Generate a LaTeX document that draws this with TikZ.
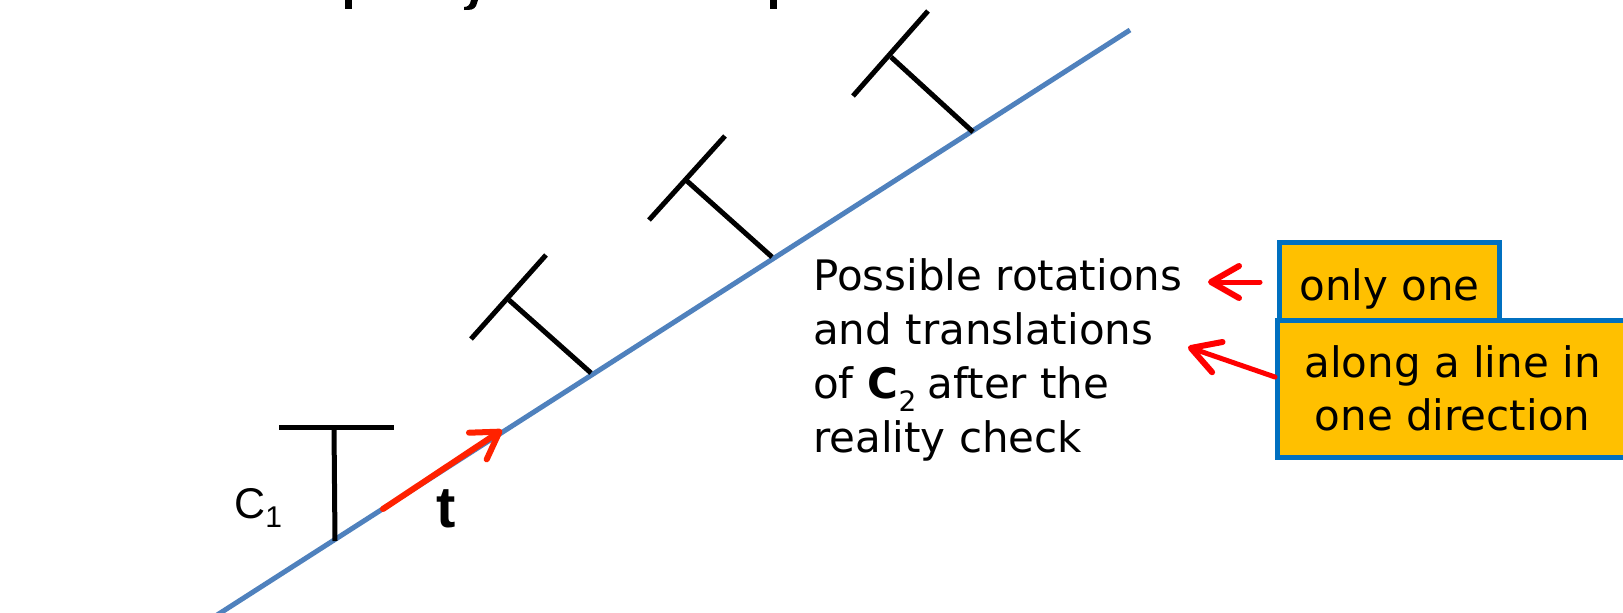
\documentclass[tikz,border=0pt]{standalone}
\usepackage{fontspec}
\setmainfont{DejaVu Sans}
\newfontfamily\arialfont{Liberation Sans}
\usetikzlibrary{arrows.meta,calc}
\definecolor{lineblue}{HTML}{4F81BD}
\definecolor{boxblue}{HTML}{0070C0}
\definecolor{boxfill}{HTML}{FFC000}
\definecolor{tred}{HTML}{FF2200}
\begin{document}
\begin{tikzpicture}[x=1pt,y=-1pt,
  axisline/.style={lineblue,line width=5pt},
  tbar/.style={black,line width=5pt},
  boxstyle/.style={draw=boxblue,line width=5pt,fill=boxfill,inner sep=0pt,
    font=\fontsize{42}{53}\selectfont},
  redarr/.style={red,line width=5pt,line cap=round,
    -{Straight Barb[length=28pt,width=32pt,line width=6pt,round]}},
  tarr/.style={tred,line width=6pt,line cap=round,
    -{Straight Barb[length=26pt,width=32pt,line width=6pt,round]}}]
\useasboundingbox (0,0) rectangle (1623,613);
\clip (0,0) rectangle (1623,613);
\fill[white] (0,0) rectangle (1623,613);
% fragments of the cut-off title
\fill (345,0) rectangle (352,9);
\fill (770,0) rectangle (777,9);
\fill (471,0) -- (478,0) -- (476,6) .. controls (474,10) and (470,10) .. (464,10)
  -- (464,7) .. controls (468,7) and (470,5) .. (471,0) -- cycle;
% line
\coordinate (L0) at (214,617);
\coordinate (L1) at (1130,30);
\draw[axisline] (L0) -- (L1);
% C1
\draw[tbar] (279,427) -- (394,427);
\draw[tbar] (334,427) -- (335,541);
\node[anchor=base west,inner sep=0pt] (c1) at (234,518)
  {\arialfont\fontsize{43}{43}\selectfont C\raisebox{-9pt}{\fontsize{30}{30}\selectfont 1}};
% translated/rotated copies
\draw[tbar] (471,339) -- (546,255);
\draw[tbar] (509,300) -- (591,373);
\draw[tbar] (649,220) -- (725,136);
\draw[tbar] (687,181) -- (772,257);
\draw[tbar] (853,96) -- (928,11);
\draw[tbar] (891,57) -- (973,132);
% t arrow
\coordinate (t0) at (383,509);
\coordinate (t1) at (502,430);
\draw[tarr] (t0) -- (t1);
\node[anchor=base west,inner sep=0pt] (tlab) at (436,527)
  {\arialfont\bfseries\fontsize{58}{58}\selectfont t};
% text block
\node[anchor=base west,inner sep=0pt] (txt) at (813,290)
  {\fontsize{42}{54.3}\selectfont\begin{tabular}[t]{@{}l@{}}
  Possible rotations\\
  and translations\\
  of \textbf{C}\raisebox{-13pt}{\fontsize{28}{28}\selectfont 2}\kern-2pt\ after the\\
  reality check
  \end{tabular}};
% boxes
\node[boxstyle,anchor=base,minimum width=220pt,minimum height=94pt,
  text height=32pt,text depth=10pt] (box1) at (1389.5,300) {only one};
\node[boxstyle,align=center,minimum width=350pt,minimum height=137pt]
  (box2) at (1452.5,388.5) {along a line in\\one direction};
% arrows from boxes
\coordinate (a1s) at (1260,282);
\coordinate (a1tip) at (1208,282);
\draw[redarr] (a1s) -- (a1tip);
\coordinate (a2tip) at (1188,347);
\draw[redarr] ($(box2.west)+(0,-11.5)$) -- (a2tip);
\end{tikzpicture}
\end{document}
